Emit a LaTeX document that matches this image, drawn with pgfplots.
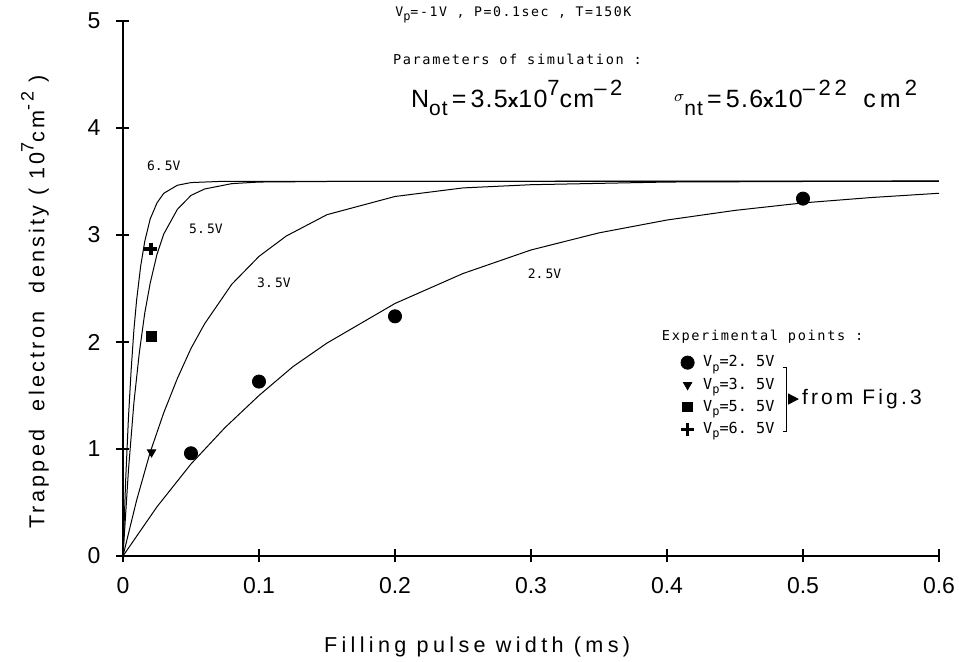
\documentclass[border=0pt]{standalone}
\usepackage{fontspec}
\setmainfont{Liberation Sans}
\newfontfamily\monoA{DejaVu Sans Mono}
\newfontfamily\monoB[LetterSpace=12]{DejaVu Sans Mono}
\newfontfamily\labfont[LetterSpace=15]{Liberation Sans}
\newfontfamily\labfontx[LetterSpace=20]{Liberation Sans}
\newfontfamily\bigfont[LetterSpace=5]{Liberation Sans}
\usepackage{pgfplots}
\pgfplotsset{compat=1.18}
\newcommand\sups[1]{\raisebox{0.5em}{\fontsize{9}{9}\selectfont #1}}
\newcommand\bsups[1]{\raisebox{0.48em}{\fontsize{11}{10}\selectfont #1}}
\newcommand\subs[1]{\raisebox{-0.3em}{\fontsize{10.5}{10}\selectfont #1}}
\newcommand\msub[1]{\raisebox{-0.3em}{\fontsize{6}{6}\selectfont #1}}
\begin{document}
\begin{tikzpicture}
\begin{axis}[
  at={(0,0)}, anchor=south west,
  scale only axis, width=408pt, height=267.5pt,
  xmin=0, xmax=0.6, ymin=0, ymax=5,
  axis x line=bottom, axis y line=left,
  axis line style={-, line width=0.9pt},
  xtick={0,0.1,0.2,0.3,0.4,0.5,0.6},
  xticklabels={0,0.1,0.2,0.3,0.4,0.5,0.6},
  ytick={0,1,2,3,4,5},
  yticklabels={0,1,2,3,4,5},
  tick align=center, major tick length=6.5pt,
  tick style={black, line width=0.6pt},
  tick label style={font=\fontsize{11.5}{13}\selectfont},
  xticklabel style={yshift=-4pt},
  yticklabel style={xshift=-4.5pt},
  clip=false,
  xlabel={\labfontx Filling  pulse  width  (ms)},
  x label style={at={(axis description cs:0.434,-0.17)}, anchor=center, font=\fontsize{10.8}{12}\selectfont},
  ylabel={\labfont Trapped\ \ electron\ \ density ( 10\sups{7}cm\sups{-2} )},
  y label style={at={(axis description cs:-0.108,0.475)}, anchor=center, rotate=0, font=\fontsize{10.8}{12}\selectfont},
  legend style={draw=none, fill=none, at={(axis cs:0.410,1.915)}, anchor=north west,
    font=\monoA\fontsize{7.6}{8}\selectfont, row sep=0pt, inner sep=0pt,
    legend cell align=left},
]
% simulated curves
\addplot[black, line width=0.5pt, forget plot] coordinates {
(0,0)(0.025,0.46)(0.05,0.86)(0.075,1.20)(0.1,1.50)(0.125,1.77)(0.15,1.99)(0.2,2.36)(0.25,2.64)(0.3,2.86)(0.35,3.02)(0.4,3.14)(0.45,3.23)(0.5,3.30)(0.55,3.35)(0.6,3.39)};
\addplot[black, line width=0.5pt, forget plot] coordinates {
(0,0)(0.01,0.52)(0.02,0.97)(0.03,1.34)(0.04,1.66)(0.05,1.94)(0.06,2.17)(0.08,2.54)(0.1,2.80)(0.12,2.99)(0.15,3.19)(0.2,3.36)(0.25,3.44)(0.3,3.47)(0.4,3.495)(0.5,3.50)(0.6,3.50)};
\addplot[black, line width=0.5pt, forget plot] coordinates {
(0,0)(0.004,0.80)(0.008,1.43)(0.012,1.90)(0.016,2.27)(0.02,2.55)(0.025,2.82)(0.03,3.01)(0.04,3.24)(0.05,3.37)(0.06,3.43)(0.08,3.48)(0.1,3.495)(0.15,3.50)(0.6,3.50)};
\addplot[black, line width=0.5pt, forget plot] coordinates {
(0,0)(0.002,0.72)(0.004,1.29)(0.006,1.74)(0.008,2.11)(0.01,2.39)(0.013,2.71)(0.016,2.94)(0.02,3.15)(0.025,3.30)(0.03,3.39)(0.04,3.465)(0.05,3.49)(0.07,3.50)(0.6,3.505)};
% experimental points
\addplot[only marks, mark=*, mark size=3.3pt, black] coordinates {(0.05,0.96)(0.1,1.63)(0.2,2.24)(0.5,3.34)};
\addlegendentry{\hspace*{2.5pt}V\msub{p}=2.\ 5V}
\addplot[only marks, mark=triangle*, mark size=2.4pt, black, mark options={rotate=180}] coordinates {(0.021,0.97)};
\addlegendentry{\hspace*{2.5pt}V\msub{p}=3.\ 5V}
\addplot[only marks, mark=square*, mark size=2.4pt, black] coordinates {(0.021,2.05)};
\addlegendentry{\hspace*{2.5pt}V\msub{p}=5.\ 5V}
\addplot[only marks, mark=+, mark size=3.2pt, black, mark options={line width=1.7pt}] coordinates {(0.0205,2.87)};
\addlegendentry{\hspace*{2.5pt}V\msub{p}=6.\ 5V}
% annotations
\node[font=\monoA\fontsize{6.5}{7}\selectfont] at (axis cs:0.030,3.65) {6.\,5V};
\node[font=\monoA\fontsize{6.5}{7}\selectfont] at (axis cs:0.061,3.06) {5.\,5V};
\node[font=\monoA\fontsize{6.5}{7}\selectfont] at (axis cs:0.111,2.55) {3.\,5V};
\node[font=\monoA\fontsize{6.5}{7}\selectfont] at (axis cs:0.310,2.64) {2.\,5V};
\node[font=\monoB\fontsize{6.6}{7}\selectfont] at (axis cs:0.287,5.06) {V\msub{p}=-1V , P=0.1sec , T=150K};
\node[font=\monoB\fontsize{6.8}{7}\selectfont] at (axis cs:0.290,4.64) {Parameters of simulation :};
\node[anchor=base west, font=\bigfont\fontsize{12.5}{13}\selectfont, inner sep=0pt] at (axis cs:0.2115,4.19) {N\subs{ot}\,=\,3.5{\fontsize{9.5}{9}\selectfont\bfseries x}10\bsups{7}cm\bsups{\textendash\,2}};
\node[anchor=base west, font=\bigfont\fontsize{12.5}{13}\selectfont, inner sep=0pt] at (axis cs:0.405,4.19) {\raisebox{0.25em}{\fontsize{8}{8}\selectfont$\sigma$}\subs{nt}\,=\,5.6{\fontsize{9.5}{9}\selectfont\bfseries x}10\bsups{\textendash\,2\,2}\ \ c\,m\,\bsups{2}};
\node[anchor=west, font=\monoB\fontsize{6.8}{7}\selectfont, inner sep=0pt] at (axis cs:0.396,2.05) {Experimental points :};
\draw[line width=0.5pt] (axis cs:0.485,1.757) -- (axis cs:0.488,1.757) -- (axis cs:0.488,1.159) -- (axis cs:0.485,1.159);
\fill (axis cs:0.489,1.52) -- (axis cs:0.497,1.467) -- (axis cs:0.489,1.414) -- cycle;
\node[anchor=west, inner sep=0pt, font=\labfont\fontsize{10.5}{12}\selectfont] at (axis cs:0.499,1.467) {from Fig.3};
\end{axis}
\pgfresetboundingbox
\path (-61.5pt,-53pt) rectangle (418pt,278pt);
\end{tikzpicture}
\end{document}
